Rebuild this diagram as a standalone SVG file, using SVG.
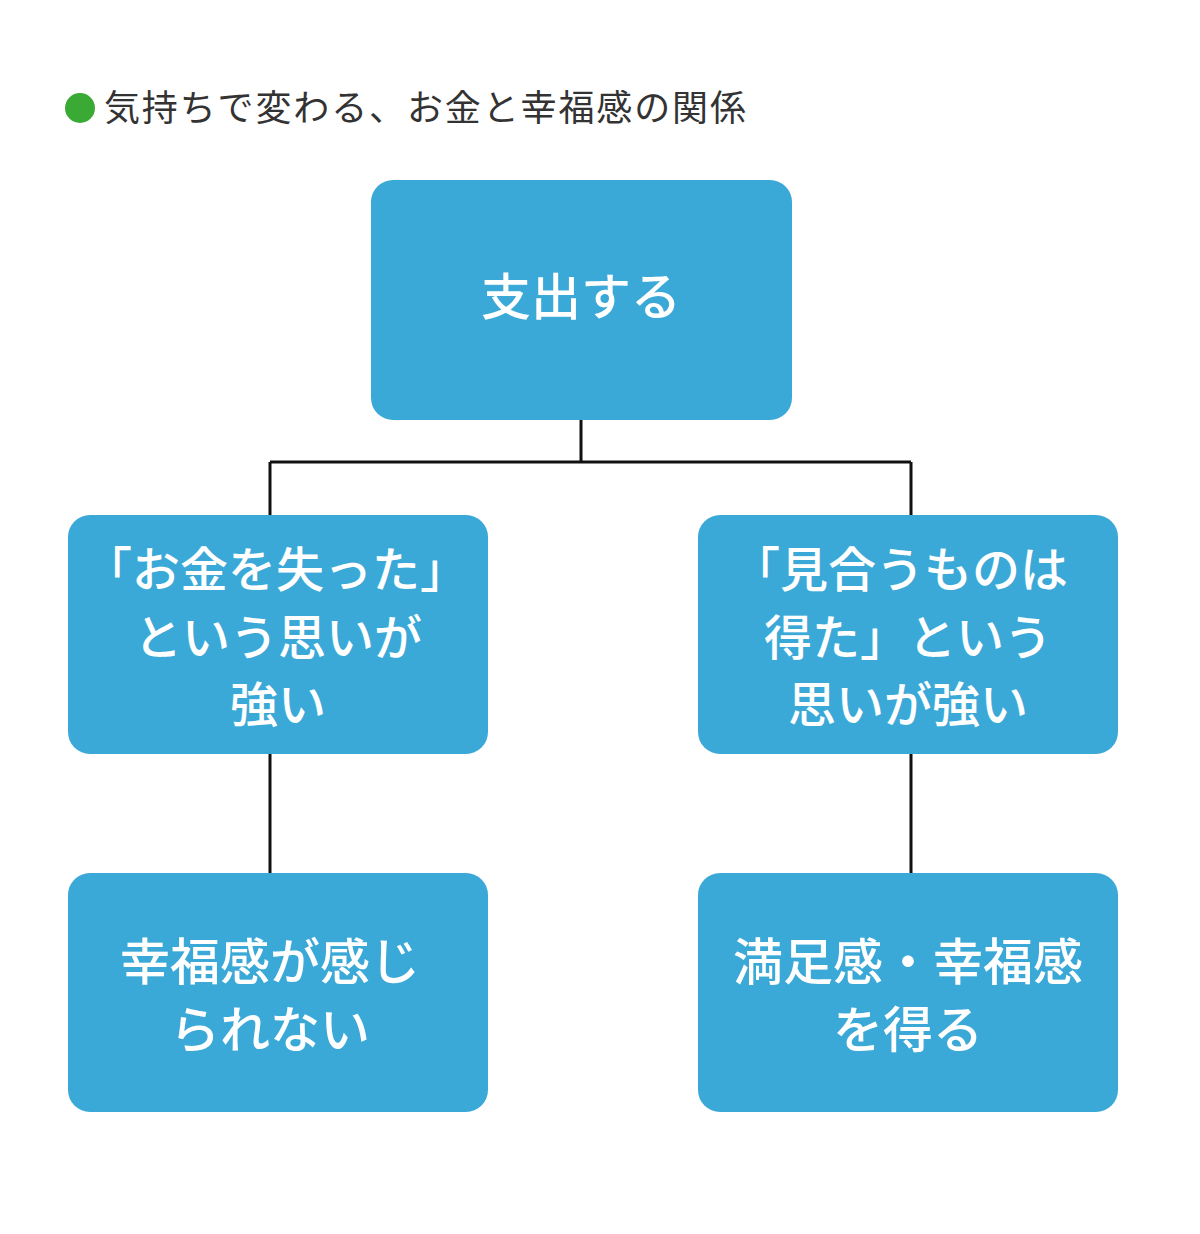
<svg xmlns="http://www.w3.org/2000/svg" width="1200" height="1234" viewBox="0 0 1200 1234">
<style>
.box{fill:#3BA9D7;}
.t{font-family:"Noto Sans CJK JP","Noto Sans CJK SC",sans-serif;fill:#ffffff;text-anchor:middle;font-weight:500;}
.m{font-size:48px;}
.b{font-size:50px;}
.title{font-family:"Noto Sans CJK JP","Noto Sans CJK SC",sans-serif;font-size:36px;fill:#333333;}
.c{stroke:#111111;stroke-width:3;fill:none;}
</style>
<rect width="1200" height="1234" fill="#ffffff"/>
<g id="title">
<circle cx="80" cy="108" r="15" fill="#3AAA35"/>
<text class="title" x="104" y="121" textLength="642" lengthAdjust="spacing">気持ちで変わる、お金と幸福感の関係</text>
</g>
<g id="connectors">
<path class="c" d="M581 420 V462 M270 462 H911 M270 462 V515 M911 462 V515 M270 754 V873 M911 754 V873"/>
</g>
<g id="n-top">
<rect class="box" x="371" y="180" width="421" height="240" rx="22"/>
<text class="t b" x="581" y="315">支出する</text>
</g>
<g id="n-left-mid">
<rect class="box" x="68" y="515" width="420" height="239" rx="22"/>
<text class="t m" x="276" y="587">「お金を失った」</text>
<text class="t m" x="278" y="655">という思いが</text>
<text class="t m" x="278" y="722">強い</text>
</g>
<g id="n-right-mid">
<rect class="box" x="698" y="515" width="420" height="239" rx="22"/>
<text class="t m" x="900" y="587">「見合うものは</text>
<text class="t m" x="908" y="655">得た」という</text>
<text class="t m" x="908" y="722">思いが強い</text>
</g>
<g id="n-left-bottom">
<rect class="box" x="68" y="873" width="420" height="239" rx="22"/>
<text class="t b" x="270" y="980">幸福感が感じ</text>
<text class="t b" x="270" y="1048">られない</text>
</g>
<g id="n-right-bottom">
<rect class="box" x="698" y="873" width="420" height="239" rx="22"/>
<text class="t b" x="908" y="980">満足感・幸福感</text>
<text class="t b" x="908" y="1048">を得る</text>
</g>
</svg>
